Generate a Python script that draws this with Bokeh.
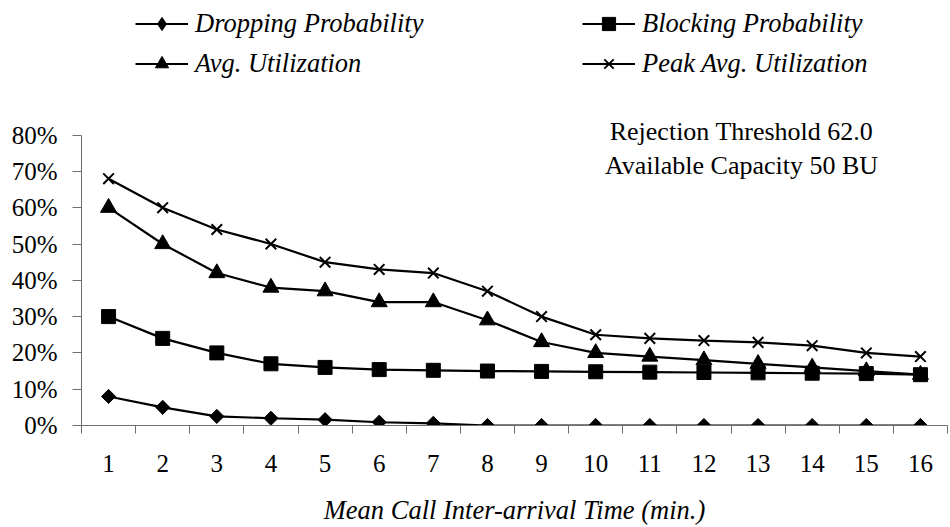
import math
from bokeh.plotting import figure
from bokeh.models import (ColumnDataSource, Range1d, FixedTicker, NumeralTickFormatter,
                          Legend, LegendItem, Label)
from bokeh.embed import file_html
from bokeh.resources import INLINE

# ---- data ----
interarrival = list(range(1, 17))
dropping = [0.08, 0.05, 0.025, 0.02, 0.016, 0.009, 0.006, 0.0, 0.0, 0.0, 0.0, 0.0, 0.0, 0.0, 0.0, 0.0]
blocking = [0.30, 0.24, 0.20, 0.17, 0.16, 0.154, 0.152, 0.15, 0.149, 0.148, 0.147, 0.146, 0.145, 0.144, 0.143, 0.14]
avg_util = [0.60, 0.50, 0.42, 0.38, 0.37, 0.34, 0.34, 0.29, 0.23, 0.20, 0.19, 0.18, 0.17, 0.16, 0.15, 0.14]
peak_util = [0.68, 0.60, 0.54, 0.50, 0.45, 0.43, 0.42, 0.37, 0.30, 0.25, 0.24, 0.234, 0.229, 0.22, 0.20, 0.19]
y_ticks = [0.0, 0.1, 0.2, 0.3, 0.4, 0.5, 0.6, 0.7, 0.8]
x_label = "Mean Call Inter-arrival Time (min.)"
note_lines = ["Rejection Threshold 62.0", "Available Capacity 50 BU"]

FONT = "Liberation Serif"
AX = "#6e6e6e"
W, H = 950, 527
left, right, bottom = 81, 3, 102
frame_h = H - bottom
px_per_unit = 363.0  # pixels per 1.0 (100%)

p = figure(width=W, height=H, output_backend="svg", toolbar_location=None,
           x_range=Range1d(0.5, 16.5), y_range=Range1d(0, frame_h / px_per_unit),
           min_border_left=left, min_border_right=right, min_border_top=0,
           min_border_bottom=bottom)
p.outline_line_color = None
p.grid.visible = False
p.background_fill_color = "white"

src = ColumnDataSource(dict(x=interarrival, drop=dropping, block=blocking,
                            avg=avg_util, peak=peak_util))

lw = 2.2
l1 = p.line("x", "drop", source=src, line_color="black", line_width=lw)
m1 = p.scatter("x", "drop", source=src, marker="square", angle=math.pi / 4, size=10,
               fill_color="black", line_color="black")
# legend-only sample for the diamond marker (legend ignores marker angle)
m1_key = p.scatter(x=[float("nan")], y=[float("nan")], marker="diamond", size=16,
                   fill_color="black", line_color="black")
l2 = p.line("x", "block", source=src, line_color="black", line_width=lw)
m2 = p.scatter("x", "block", source=src, marker="square", size=14,
               fill_color="black", line_color="black")
l3 = p.line("x", "avg", source=src, line_color="black", line_width=lw)
m3 = p.scatter("x", "avg", source=src, marker="triangle", size=16,
               fill_color="black", line_color="black")
l4 = p.line("x", "peak", source=src, line_color="black", line_width=lw)
m4 = p.scatter("x", "peak", source=src, marker="x", size=15,
               line_color="black", line_width=2)

# axes
xa = p.xaxis[0]
xa.ticker = FixedTicker(ticks=interarrival, minor_ticks=[i + 0.5 for i in range(0, 17)])
xa.axis_line_color = AX
xa.major_tick_line_color = None
xa.minor_tick_line_color = AX
xa.minor_tick_out = 8
xa.minor_tick_in = 0
xa.major_label_text_font = FONT
xa.major_label_text_font_size = "25px"
xa.major_label_text_color = "black"
xa.major_label_standoff = 21
xa.axis_label = x_label
xa.axis_label_text_font = FONT
xa.axis_label_text_font_style = "italic"
xa.axis_label_text_font_size = "26.5px"
xa.axis_label_text_color = "black"
xa.axis_label_standoff = 20

ya = p.yaxis[0]
ya.ticker = FixedTicker(ticks=y_ticks)
ya.bounds = (0, 0.8)
ya.formatter = NumeralTickFormatter(format="0%")
ya.axis_line_color = AX
ya.major_tick_line_color = AX
ya.major_tick_out = 9
ya.major_tick_in = 0
ya.minor_tick_line_color = None
ya.major_label_text_font = FONT
ya.major_label_text_font_size = "25px"
ya.major_label_text_color = "black"
ya.major_label_standoff = 15

# legends (two columns)
def mk_legend(items, x):
    lg = Legend(items=items, location=(x, frame_h - 80), orientation="vertical",
                padding=0, margin=0, spacing=7, glyph_width=53, glyph_height=33,
                label_standoff=7, border_line_color=None, background_fill_alpha=0,
                label_text_font=FONT, label_text_font_style="italic",
                label_text_font_size="26.5px", label_text_color="black")
    p.add_layout(lg, "center")

mk_legend([LegendItem(label="Dropping Probability", renderers=[l1, m1_key]),
           LegendItem(label="Avg. Utilization", renderers=[l3, m3])], 135 - left)
mk_legend([LegendItem(label="Blocking Probability", renderers=[l2, m2]),
           LegendItem(label="Peak Avg. Utilization", renderers=[l4, m4])], 582 - left)

# annotation
note_x = 0.5 + (741 - left) / ((W - left - right) / 16.0)
for txt, ypix in zip(note_lines, [131, 165]):
    p.add_layout(Label(x=note_x, y=(frame_h - ypix) / px_per_unit, text=txt,
                       text_align="center", text_baseline="middle",
                       text_font=FONT, text_font_size="26px", text_color="black"))

open("out.html", "w").write(file_html(p, INLINE))
